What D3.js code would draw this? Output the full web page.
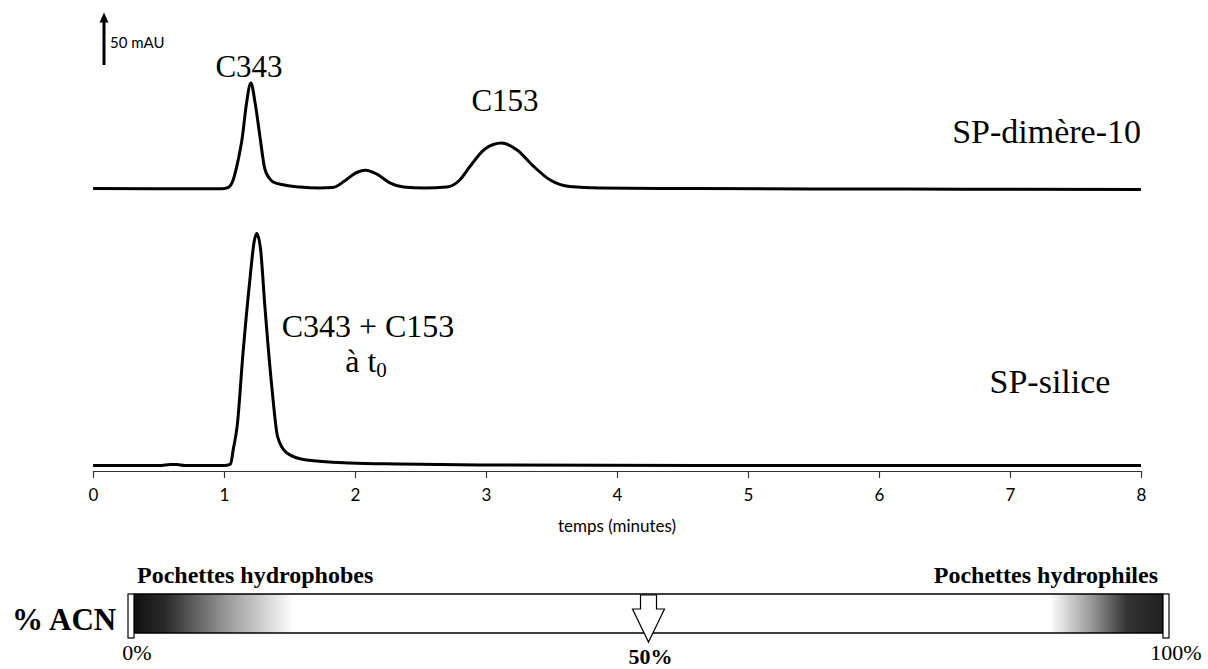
<!DOCTYPE html>
<html>
<head>
<meta charset="utf-8">
<script src="https://cdn.jsdelivr.net/npm/d3@7"></script>
<style>
  body { margin: 0; background: #fff; }
  svg { display: block; }
</style>
</head>
<body>
<script>
// chromatogram: time (min) and signal (mAU above the trace baseline)
const timeTop = [0, 0.45, 0.8, 0.98, 1.03, 1.07, 1.10, 1.14, 1.17, 1.205, 1.24, 1.275, 1.31, 1.345, 1.375, 1.46, 1.58, 1.73,
  1.83, 1.92, 2.0, 2.08, 2.17, 2.27, 2.37, 2.53, 2.70, 2.80, 2.88, 2.99, 3.12, 3.24, 3.36, 3.49, 3.64, 3.87, 4.6, 6.2, 8]
const signalTop = [0.5, 0.4, 0.3, 0.3, 1.4, 8.6, 23, 49.5, 80, 101, 80, 49.5, 20, 10.5, 6.7, 3.8, 1.9, 1,
  1.4, 7.6, 15, 18, 14, 5.7, 1.9, 1, 1.9, 8.6, 22, 38, 43.8, 37, 22, 8.6, 2.4, 1, 0.5, 0, -0.5]

const timeBottom = [0, 0.51, 0.59, 0.64, 0.70, 1.0, 1.05, 1.07, 1.10, 1.145, 1.20, 1.23, 1.25, 1.28, 1.31, 1.365, 1.41, 1.48,
  1.63, 1.96, 2.34, 2.95, 4.6, 8]
const signalBottom = [0, 0, 1, 1, 0, 0, 1.4, 15, 37, 107, 180, 213, 221, 205, 155, 75, 27, 12,
  5.2, 2.4, 1.4, 0.5, 0, 0]

const traceNames = ['SP-dimère-10', 'SP-silice']
const traceOffsets = [268.5, 5.2] // mAU, vertical stacking of the two traces
const xTicks = [0, 1, 2, 3, 4, 5, 6, 7, 8]
const scaleBarMAU = 50

const acnLabels = ['0%', '50%', '100%']
const acnValues = [0, 50, 100]

const width = 1208, height = 669

const svg = d3.select('body').append('svg').attr('width', width).attr('height', height)

const x = d3.scaleLinear().domain([0, 8]).range([93, 1141])
const y = d3.scaleLinear().domain([0, 50]).range([471, 471 - 52.5])

const line = d3.line()
  .x(d => x(d[0]))
  .y(d => y(d[1]))
  .curve(d3.curveMonotoneX)

const traces = [
  d3.zip(timeTop, signalTop.map(v => v + traceOffsets[0])),
  d3.zip(timeBottom, signalBottom.map(v => v + traceOffsets[1]))
]

svg.selectAll('path.trace')
  .data(traces)
  .enter().append('path')
    .attr('class', 'trace')
    .attr('d', line)
    .attr('fill', 'none')
    .attr('stroke', '#000')
    .attr('stroke-width', 3)
    .attr('stroke-linejoin', 'round')

// x axis
const sans = 'Lato, "Open Sans", sans-serif'
const xAxis = d3.axisBottom(x).tickValues(xTicks).tickSize(7).tickSizeOuter(0).tickFormat(d3.format('d'))
const gx = svg.append('g')
  .attr('transform', 'translate(0,' + y(0) + ')')
  .call(xAxis)
gx.select('.domain').attr('stroke', '#333').attr('stroke-width', 1.2)
gx.selectAll('.tick line').attr('stroke', '#333').attr('stroke-width', 1.2)
gx.selectAll('.tick text')
  .attr('y', 18)
  .attr('dy', '0.71em')
  .attr('font-family', sans)
  .attr('font-size', 17)
  .attr('fill', '#000')

svg.append('text')
  .attr('x', (x(0) + x(8)) / 2)
  .attr('y', 532)
  .attr('text-anchor', 'middle')
  .attr('font-family', sans)
  .attr('font-size', 17)
  .text('temps (minutes)')

// scale bar 50 mAU
const barLen = y(0) - y(scaleBarMAU)
const tipY = 65 - barLen
svg.append('line')
  .attr('x1', 104).attr('x2', 104)
  .attr('y1', 65).attr('y2', tipY + 6)
  .attr('stroke', '#000').attr('stroke-width', 3)
svg.append('path')
  .attr('d', `M104,${tipY} L99.5,${tipY + 10} L108.5,${tipY + 10} Z`)
  .attr('fill', '#000')
svg.append('text')
  .attr('x', 110).attr('y', 48)
  .attr('font-family', sans)
  .attr('font-size', 15)
  .text(scaleBarMAU + ' mAU')

// peak labels
const serif = '"Liberation Serif", "Times New Roman", serif'
svg.append('text').attr('x', 249).attr('y', 77).attr('text-anchor', 'middle')
  .attr('font-family', serif).attr('font-size', 31).text('C343')
svg.append('text').attr('x', 505).attr('y', 111).attr('text-anchor', 'middle')
  .attr('font-family', serif).attr('font-size', 31).text('C153')
svg.append('text').attr('x', 368).attr('y', 337).attr('text-anchor', 'middle')
  .attr('font-family', serif).attr('font-size', 32).text('C343 + C153')
const t0 = svg.append('text').attr('x', 366).attr('y', 372).attr('text-anchor', 'middle')
  .attr('font-family', serif).attr('font-size', 32)
t0.append('tspan').text('à t')
t0.append('tspan').attr('font-size', 21).attr('dy', 5).text('0')

svg.selectAll('text.trace-name')
  .data(traceNames)
  .enter().append('text')
    .attr('class', 'trace-name')
    .attr('x', (d, i) => i === 0 ? 1141 : 1050)
    .attr('y', (d, i) => i === 0 ? 143 : 393)
    .attr('text-anchor', (d, i) => i === 0 ? 'end' : 'middle')
    .attr('font-family', serif)
    .attr('font-size', 34)
    .text(d => d)

// % ACN gradient bar
const acn = d3.scaleLinear().domain([0, 100]).range([131, 1166])
const defs = svg.append('defs')
const grad = defs.append('linearGradient').attr('id', 'acnGrad').attr('x1', '0%').attr('x2', '100%')
const stops = [[0, '#111'], [0.03, '#2a2a2a'], [0.09, '#999'], [0.155, '#fff'], [0.89, '#fff'], [0.93, '#999'], [0.965, '#333'], [1, '#222']]
grad.selectAll('stop').data(stops).enter().append('stop')
  .attr('offset', d => d[0]).attr('stop-color', d => d[1])

svg.append('rect')
  .attr('x', acn(0) + 3).attr('y', 594)
  .attr('width', acn(100) - acn(0) - 6).attr('height', 39)
  .attr('fill', 'url(#acnGrad)')
  .attr('stroke', '#000').attr('stroke-width', 1.5)

// end tabs
svg.selectAll('rect.tab')
  .data([0, 100])
  .enter().append('rect')
    .attr('class', 'tab')
    .attr('x', d => acn(d) - 3).attr('y', 594)
    .attr('width', 6).attr('height', 44)
    .attr('fill', '#fff').attr('stroke', '#000').attr('stroke-width', 1.2)

// arrow at 50 %
const ax = acn(50)
svg.append('path')
  .attr('d', `M${ax - 8},595 L${ax + 8},595 L${ax + 8},609 L${ax + 16},609 L${ax},642 L${ax - 16},609 L${ax - 8},609 Z`)
  .attr('fill', '#fff').attr('stroke', '#000').attr('stroke-width', 1.2)

svg.selectAll('text.acn')
  .data(acnValues)
  .enter().append('text')
    .attr('class', 'acn')
    .attr('x', d => acn(d) + (d === 0 ? 6 : d === 100 ? 10 : 2))
    .attr('y', d => d === 50 ? 664 : 660)
    .attr('text-anchor', 'middle')
    .attr('font-family', serif)
    .attr('font-size', 22)
    .attr('font-weight', d => d === 50 ? 'bold' : 'normal')
    .text((d, i) => acnLabels[i])

svg.append('text').attr('x', 12).attr('y', 630)
  .attr('font-family', serif).attr('font-size', 31).attr('font-weight', 'bold').text('% ACN')
svg.append('text').attr('x', 137).attr('y', 583)
  .attr('font-family', serif).attr('font-size', 24).attr('font-weight', 'bold').text('Pochettes hydrophobes')
svg.append('text').attr('x', 1158).attr('y', 583).attr('text-anchor', 'end')
  .attr('font-family', serif).attr('font-size', 24).attr('font-weight', 'bold').text('Pochettes hydrophiles')
</script>
</body>
</html>
